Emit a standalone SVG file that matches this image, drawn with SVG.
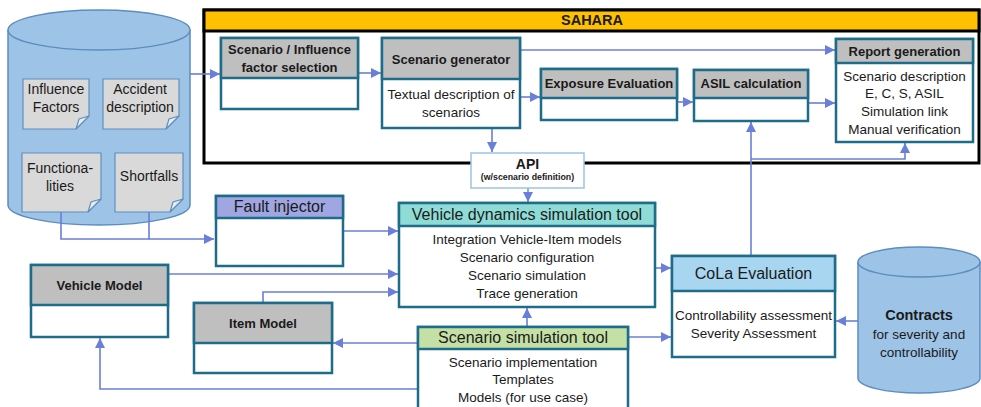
<svg xmlns="http://www.w3.org/2000/svg" width="981" height="407" viewBox="0 0 981 407">
<defs>
<marker id="ah" markerUnits="userSpaceOnUse" markerWidth="10" markerHeight="10" viewBox="0 0 10 10" refX="10" refY="5" orient="auto">
<path d="M0,0 L10,5 L0,10 Z" fill="#6a7fd8"/>
</marker>
<style>
text{font-family:"Liberation Sans",Arial,sans-serif;fill:#1a1a1a;text-anchor:middle}
.b{font-weight:bold;font-size:13px}
.t{font-size:13.5px}
.h{font-size:16px}
.box{fill:#fff;stroke:#1f6b8a;stroke-width:2.5}
.hd{stroke:#1f6b8a;stroke-width:2.5}
.gray{fill:#bfbfbf}
.con{fill:none;stroke:#6a7fd8;stroke-width:1.6}
.arr{marker-end:url(#ah)}
.doc{fill:#d9d9d9;stroke:#5f8fbf;stroke-width:1.2}
.fold{fill:#ececec;stroke:#5f8fbf;stroke-width:1.2}
.cyl{fill:#9dc3e6;stroke:#5b8dbf;stroke-width:1.5}
.dt{font-size:14px}
</style>
</defs>
<rect width="981" height="407" fill="#fff"/>

<!-- SAHARA frame -->
<g id="sahara">
<rect x="204" y="10" width="775" height="153" fill="#fff" stroke="#000" stroke-width="3"/>
<rect x="204" y="10" width="775" height="21" fill="#ffc000" stroke="#000" stroke-width="3"/>
<text x="592" y="25" style="font-weight:bold;font-size:14.5px">SAHARA</text>
</g>

<!-- Left database cylinder -->
<g id="database">
<path class="cyl" d="M8,30 A91,20 0 0 1 190,30 V205 A91,20 0 0 1 8,205 Z"/>
<path class="cyl" d="M8,30 A91,20 0 0 0 190,30"/>
<g id="doc-influence">
<path class="doc" d="M23,79 H89 V116 L76,129 H23 Z"/>
<path class="fold" d="M76,129 L79,119 L89,116 Z"/>
<text class="dt" x="56" y="94">Influence</text>
<text class="dt" x="56" y="112">Factors</text>
</g>
<g id="doc-accident">
<path class="doc" d="M103,79 H179 V116 L166,129 H103 Z"/>
<path class="fold" d="M166,129 L169,119 L179,116 Z"/>
<text class="dt" x="140" y="94">Accident</text>
<text class="dt" x="140" y="112">description</text>
</g>
<g id="doc-functionalities">
<path class="doc" d="M22,153 H101 V199 L88,212 H22 Z"/>
<path class="fold" d="M88,212 L91,202 L101,199 Z"/>
<text class="dt" x="60" y="173">Functiona-</text>
<text class="dt" x="60" y="191">lities</text>
</g>
<g id="doc-shortfalls">
<path class="doc" d="M115,153 H183 V199 L170,212 H115 Z"/>
<path class="fold" d="M170,212 L173,202 L183,199 Z"/>
<text class="dt" x="149" y="181">Shortfalls</text>
</g>
</g>

<!-- Contracts cylinder -->
<g id="contracts">
<path class="cyl" d="M858,262 A61,15 0 0 1 980,262 V378 A61,15 0 0 1 858,378 Z"/>
<path class="cyl" d="M858,262 A61,15 0 0 0 980,262"/>
<text x="919" y="320" style="font-weight:bold;font-size:14.5px">Contracts</text>
<text class="t" x="919" y="339">for severity and</text>
<text class="t" x="919" y="357">controllability</text>
</g>

<!-- Connectors -->
<g id="connectors">
<path class="con arr" d="M190,74 H220"/>
<path class="con arr" d="M358,73 H381"/>
<path class="con arr" d="M520,50 H835"/>
<path class="con arr" d="M520,97 H540"/>
<path class="con arr" d="M677,102 H693"/>
<path class="con arr" d="M808,103 H835"/>
<path class="con arr" d="M751,256 V122"/>
<path class="con arr" d="M751,159 H905 V143"/>
<path class="con arr" d="M492,128 V152"/>
<path class="con arr" d="M528,188 V202" style="stroke:#5b9bd5"/>
<path class="con" d="M61,212 V239 H149 V212"/>
<path class="con arr" d="M149,239 H214"/>
<path class="con arr" d="M343,231 H398"/>
<path class="con arr" d="M168,274 H398"/>
<path class="con arr" d="M263,303 V292 H398"/>
<path class="con arr" d="M527,327 V308"/>
<path class="con arr" d="M655,268 H671"/>
<path class="con arr" d="M628,337 H671"/>
<path class="con arr" d="M858,321 H836"/>
<path class="con arr" d="M418,343 H333"/>
<path class="con arr" d="M418,389 H100 V338"/>
</g>

<!-- SAHARA inner nodes -->
<g id="scenario-influence">
<rect class="box" x="221" y="38" width="137" height="71"/>
<rect class="gray hd" x="221" y="38" width="137" height="40"/>
<text class="b" x="289.5" y="54">Scenario / Influence</text>
<text class="b" x="289.5" y="72">factor selection</text>
</g>

<g id="scenario-generator">
<rect class="box" x="382" y="38" width="138" height="90"/>
<rect class="gray hd" x="382" y="38" width="138" height="41"/>
<text class="b" x="451" y="64">Scenario generator</text>
<text class="t" x="451" y="99">Textual description of</text>
<text class="t" x="451" y="117">scenarios</text>
</g>

<g id="exposure-evaluation">
<rect class="box" x="541" y="69" width="136" height="51"/>
<rect class="gray hd" x="541" y="69" width="136" height="29"/>
<text class="b" x="609" y="88">Exposure Evaluation</text>
</g>

<g id="asil-calculation">
<rect class="box" x="694" y="70" width="114" height="51"/>
<rect class="gray hd" x="694" y="70" width="114" height="28"/>
<text class="b" x="751" y="88">ASIL calculation</text>
</g>

<g id="report-generation">
<rect class="box" x="836" y="39" width="137" height="103"/>
<rect class="gray hd" x="836" y="39" width="137" height="24"/>
<text class="b" x="904.5" y="56">Report generation</text>
<text class="t" x="904.5" y="81">Scenario description</text>
<text class="t" x="904.5" y="98">E, C, S, ASIL</text>
<text class="t" x="904.5" y="116">Simulation link</text>
<text class="t" x="904.5" y="134">Manual verification</text>
</g>

<g id="api">
<rect x="471" y="153" width="113" height="35" fill="#fff" stroke="#9dc3e6" stroke-width="1.5"/>
<text x="527.5" y="169" style="font-weight:bold;font-size:14px">API</text>
<text x="527.5" y="180" style="font-weight:bold;font-size:8.8px">(w/scenario definition)</text>
</g>

<!-- Lower nodes -->
<g id="fault-injector">
<rect class="box" x="216" y="196" width="127" height="70"/>
<rect class="hd" x="216" y="196" width="127" height="22" fill="#9fa6e2"/>
<text class="h" x="279.5" y="212">Fault injector</text>
</g>

<g id="vehicle-dynamics">
<rect class="box" x="399" y="203" width="256" height="104"/>
<rect class="hd" x="399" y="203" width="256" height="23" fill="#8fdcd6"/>
<text class="h" x="527" y="220">Vehicle dynamics simulation tool</text>
<text class="t" x="527" y="244">Integration Vehicle-Item models</text>
<text class="t" x="527" y="262">Scenario configuration</text>
<text class="t" x="527" y="280">Scenario simulation</text>
<text class="t" x="527" y="298">Trace generation</text>
</g>

<g id="vehicle-model">
<rect class="box" x="31" y="265" width="137" height="72"/>
<rect class="gray hd" x="31" y="265" width="137" height="40"/>
<text class="b" x="99.5" y="290">Vehicle Model</text>
</g>

<g id="item-model">
<rect class="box" x="194" y="303" width="138" height="70"/>
<rect class="gray hd" x="194" y="303" width="138" height="40"/>
<text class="b" x="263" y="328">Item Model</text>
</g>

<g id="scenario-simulation">
<rect class="box" x="418" y="327" width="210" height="85"/>
<rect class="hd" x="418" y="327" width="210" height="22" fill="#c5e0a5"/>
<text class="h" x="523" y="343">Scenario simulation tool</text>
<text class="t" x="523" y="367">Scenario implementation</text>
<text class="t" x="523" y="384">Templates</text>
<text class="t" x="523" y="402">Models (for use case)</text>
</g>

<g id="cola-evaluation">
<rect class="box" x="672" y="256" width="163" height="101"/>
<rect class="hd" x="672" y="256" width="163" height="35" fill="#a8d5ef"/>
<text class="h" x="753.5" y="279">CoLa Evaluation</text>
<text class="t" x="753.5" y="320">Controllability assessment</text>
<text class="t" x="753.5" y="338">Severity Assessment</text>
</g>
</svg>
